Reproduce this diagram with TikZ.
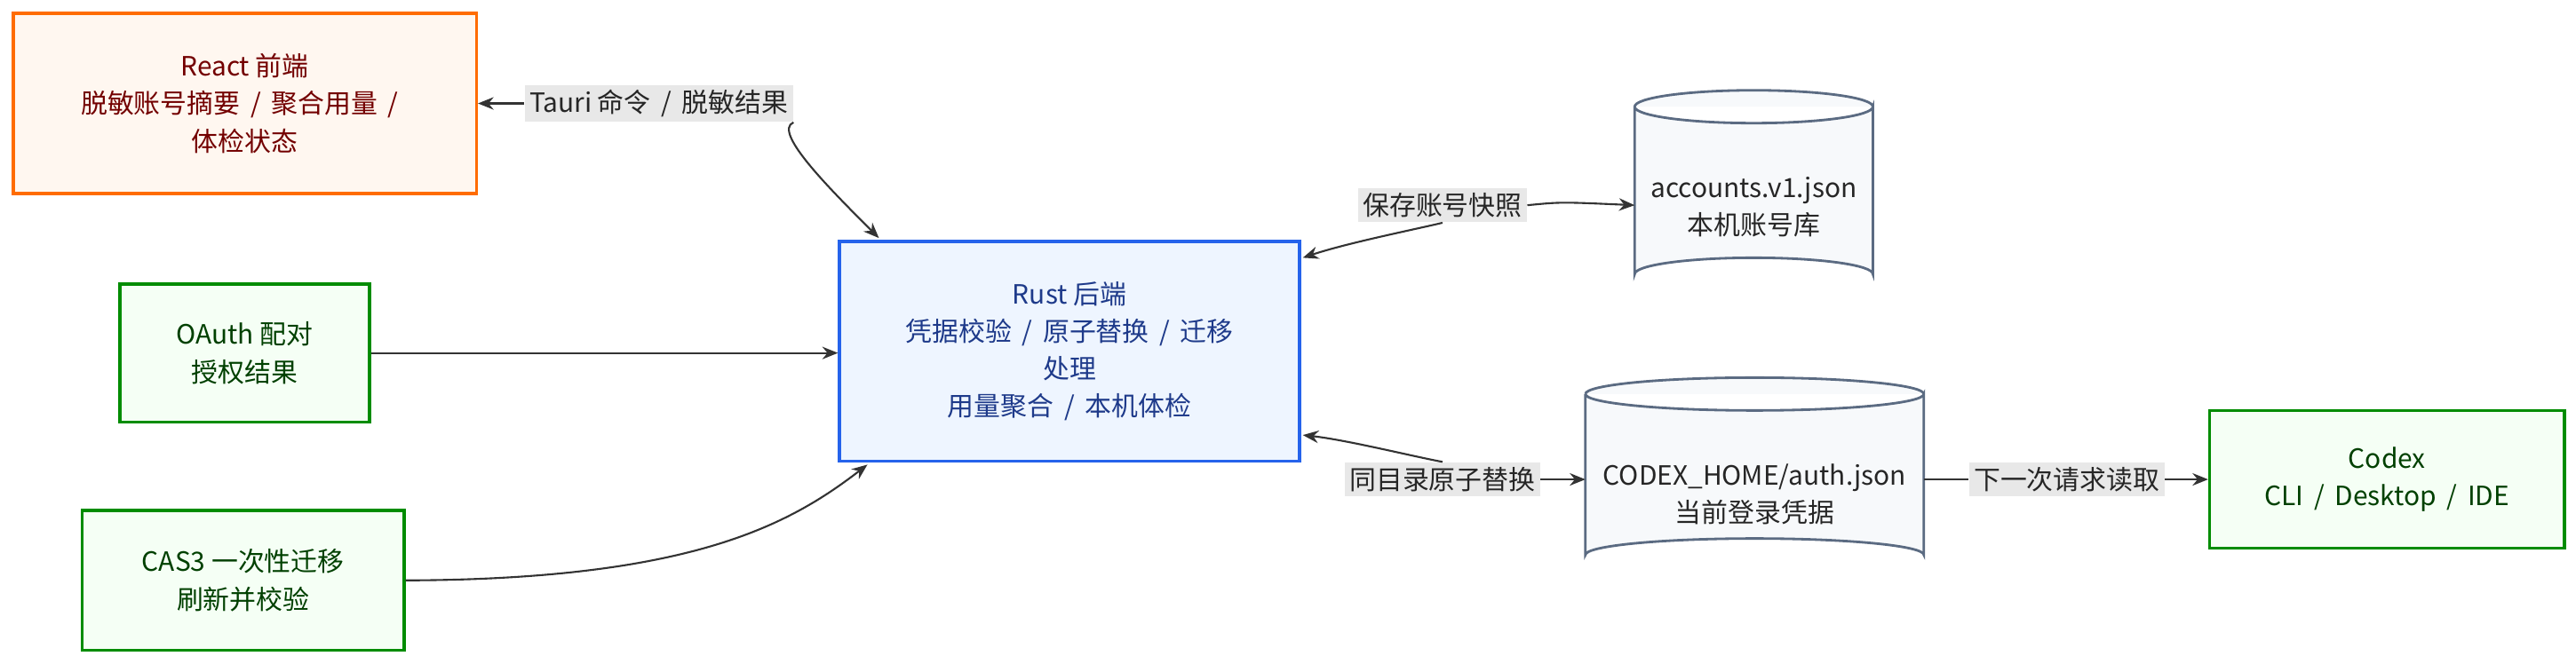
\documentclass[tikz,border=0pt]{standalone}
\usepackage{fontspec}
\setmainfont{Noto Sans CJK SC}
\usetikzlibrary{arrows.meta}
\definecolor{eg}{HTML}{333333}
\definecolor{cyd}{HTML}{5B6B82}
\definecolor{cyf}{HTML}{F7F9FB}
\definecolor{bld}{HTML}{2563EB}
\definecolor{blf}{HTML}{EEF5FF}
\definecolor{blt}{HTML}{1E3A8A}
\tikzset{
 box/.style={draw,line width=1pt,align=center,inner sep=0pt,font=\fontsize{8.5pt}{12pt}\selectfont},
 orb/.style={box,draw=orange!85!red,fill=orange!6,text=red!45!black},
 grb/.style={box,draw=green!55!black,fill=green!4,text=green!25!black},
 blb/.style={box,draw=bld,fill=blf,text=blt},
 cyt/.style={align=center,inner sep=0pt,font=\fontsize{8.5pt}{12pt}\selectfont,text=black!85},
 lab/.style={fill=black!9,inner sep=1.5pt,font=\fontsize{8.5pt}{10pt}\selectfont,text=black!85},
 ed/.style={draw=eg,line width=0.6pt,-{Stealth[length=5pt,width=4pt]}},
 cyl/.style={draw=cyd,fill=cyf,line width=0.8pt}
}
\newcommand{\mysl}{\ \,/\ \,}
\begin{document}
\begin{tikzpicture}[x=0.0185cm,y=-0.0185cm]
\useasboundingbox[fill=white] (0,0) rectangle (1568,404.4);
\node[orb,minimum width=282*0.0185cm,minimum height=110*0.0185cm] (react) at (149,63) {React 前端\\脱敏账号摘要\mysl 聚合用量\mysl\\体检状态};
\node[grb,minimum width=152*0.0185cm,minimum height=84*0.0185cm] (oauth) at (149,215) {OAuth 配对\\授权结果};
\node[grb,minimum width=196*0.0185cm,minimum height=85*0.0185cm] (cas) at (148,353.5) {CAS3 一次性迁移\\刷新并校验};
\node[blb,minimum width=280*0.0185cm,minimum height=134*0.0185cm] (rust) at (651,214) {Rust 后端\\凭据校验\mysl 原子替换\mysl 迁移\\处理\\用量聚合\mysl 本机体检};
\node[grb,minimum width=216*0.0185cm,minimum height=84*0.0185cm] (codex) at (1453,292) {Codex\\CLI\mysl Desktop\mysl IDE};
% cylinders
\draw[cyl] (995,65) -- (995,167) arc[start angle=180,end angle=360,x radius=72.5,y radius=10] -- (1140,65) arc[start angle=0,end angle=180,x radius=72.5,y radius=10];
\draw[cyl] (995,65) arc[start angle=180,end angle=360,x radius=72.5,y radius=10];
\node[cyt] (acc) at (1067.5,126) {accounts.v1.json\\本机账号库};
\draw[cyl] (965,240) -- (965,338) arc[start angle=180,end angle=360,x radius=103,y radius=10] -- (1171,240) arc[start angle=0,end angle=180,x radius=103,y radius=10];
\draw[cyl] (965,240) arc[start angle=180,end angle=360,x radius=103,y radius=10];
\node[cyt] (home) at (1068,301) {CODEX\_HOME/auth.json\\当前登录凭据};
\coordinate (accw) at (995,125);
\coordinate (homew) at (965,292);
\coordinate (home e) at (1171,292);
% edges
\node[lab] (l1) at (401,63) {Tauri 命令\mysl 脱敏结果};
\draw[ed] (l1.west) -- (react.east);
\draw[ed] (l1.south east) .. controls (470,80) and (505,115) .. (535,145);
\draw[ed] (oauth.east) -- (oauth.east -| rust.west);
\draw[ed] (cas.east) .. controls (420,353) and (480,320) .. (528,283);
\node[lab] (l2) at (878,125) {保存账号快照};
\draw[ed] (l2.south) .. controls (860,140) and (820,148) .. (793,157);
\draw[ed] (l2.east) .. controls (950,123) .. (accw);
\node[lab] (l3) at (878,292) {同目录原子替换};
\draw[ed] (l3.north) .. controls (860,278) and (820,268) .. (793,265);
\draw[ed] (l3.east) -- (homew);
\node[lab] (l4) at (1258,292) {下一次请求读取};
\draw[eg,line width=0.6pt] (home e) -- (l4.west);
\draw[ed] (l4.east) -- (codex.west);
\end{tikzpicture}
\end{document}
